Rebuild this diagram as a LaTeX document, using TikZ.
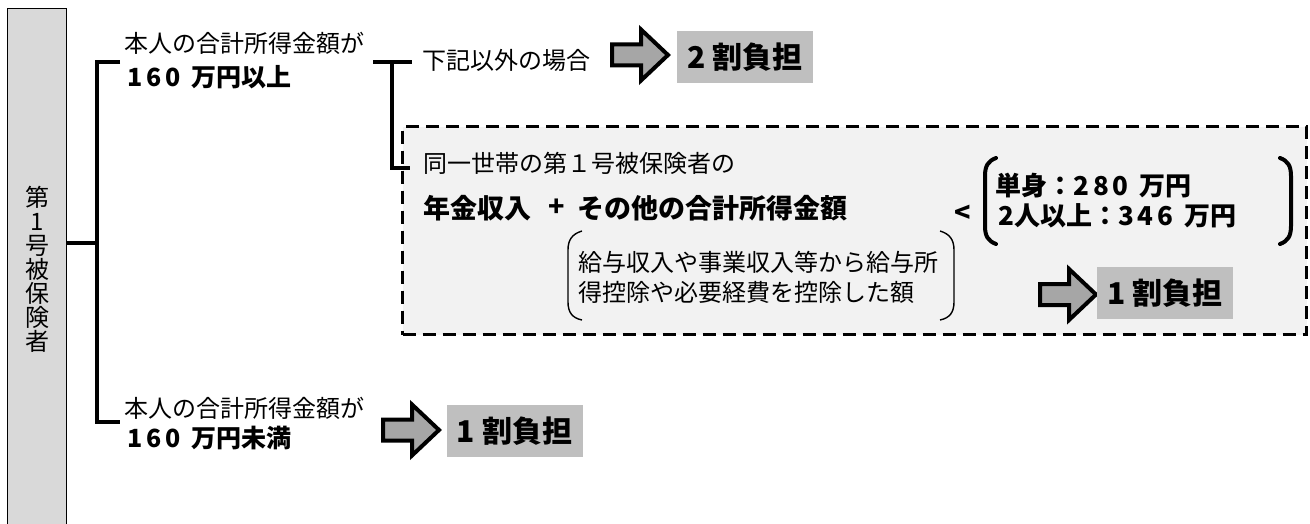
\documentclass[tikz,border=0pt]{standalone}
\usepackage{fontspec}
\setmainfont{Noto Sans CJK JP}
\definecolor{boxgray}{HTML}{D9D9D9}
\definecolor{dashfill}{HTML}{F2F2F2}
\definecolor{resgray}{HTML}{BFBFBF}
\definecolor{arrgray}{HTML}{A6A6A6}
\newcommand{\dk}{\kern4pt}
\newcommand{\wsp}{\ \kern5pt}
\newcommand{\blkarrow}[2]{%
  \draw[arrowst] (#1,{#2-10.5}) -- ({#1+29},{#2-10.5}) -- ({#1+29},{#2-25.5}) -- ({#1+56},#2)
    -- ({#1+29},{#2+25.5}) -- ({#1+29},{#2+10.5}) -- (#1,{#2+10.5}) -- cycle;}
\begin{document}
\begin{tikzpicture}[x=1pt,y=-1pt,
  txt/.style={font=\fontsize{24}{30}\selectfont, inner sep=0, anchor=west},
  btxt/.style={font=\fontsize{25}{30}\selectfont\bfseries, inner sep=0, anchor=west},
  bigtxt/.style={font=\fontsize{27}{30}\selectfont\bfseries, inner sep=0, anchor=west},
  vtxt/.style={font=\fontsize{24}{24}\selectfont, inner sep=0, align=center},
  brk/.style={line width=4.6, line cap=butt, line join=miter},
  arrowst/.style={draw=black, fill=arrgray, line width=4, line join=miter},
  resbox/.style={fill=resgray, minimum width=136, minimum height=52, inner sep=0,
    font=\fontsize{30}{30}\selectfont\bfseries},
  dashbox/.style={draw=black, fill=dashfill, line width=3.2, dash pattern=on 13pt off 7pt,
    minimum width=904, minimum height=208, anchor=north west, inner sep=0},
  paren/.style={line width=1.4},
  bparen/.style={line width=4, line cap=round}]
\useasboundingbox (0,0) rectangle (1310,524);
\fill[white] (0,0) rectangle (1310,524);
% left box
\node[draw, fill=boxgray, line width=1.3, minimum width=59, minimum height=540,
  anchor=north west, inner sep=0] (lb) at (7,8) {};
\node[vtxt] (lbt) at (37,269) {第\\1\\号\\被\\保\\険\\者};
% main bracket
\coordinate (c0) at (66,243);
\coordinate (cj) at (97,243);
\coordinate (bt) at (97,62);
\coordinate (btt) at (120,62);
\coordinate (bb) at (97,422);
\coordinate (bbt) at (120,422);
\draw[brk] (c0) -- (cj);
\draw[brk] (btt) -- (bt) -- (bb) -- (bbt);
% upper texts
\node[txt] (t1a) at (124,43) {本人の合計所得金額が};
\node[btxt] (t1b) at (127,77) {1\dk6\dk0\wsp 万円以上};
% dashed box
\node[dashbox] (db) at (401,125) {};
% T bracket
\coordinate (ta) at (373,62);
\coordinate (tb) at (412,62);
\coordinate (tc) at (392,62);
\coordinate (td) at (392,168);
\coordinate (te) at (410,168);
\draw[brk] (ta) -- (tb);
\draw[brk] (tc) -- (td) -- (te);
\node[txt] (t2) at (422,60) {下記以外の場合};
\blkarrow{612}{55}
\node[resbox] (r1) at (745,57.5) {2 割負担};
% inside dashed box
\node[txt] (t3) at (423,163) {同一世帯の第１号被保険者の};
\node[bigtxt] (t4a) at (423,208) {年金収入};
\node[bigtxt, anchor=center] (t4p) at (557,208) {+};
\node[bigtxt] (t4b) at (577,208) {その他の合計所得金額};
\node[txt, align=left, font=\fontsize{24}{30}\selectfont] (t5) at (578,277)
  {給与収入や事業収入等から給与所\\得控除や必要経費を控除した額};
\draw[paren] (582,231) .. controls (572,234) and (568,240) .. (568,250) -- (568,302)
  .. controls (568,312) and (572,318) .. (582,320);
\draw[paren] (940,231) .. controls (950,234) and (954,240) .. (954,250) -- (954,302)
  .. controls (954,312) and (950,318) .. (940,320);
\node[bigtxt, anchor=center] (lt) at (963,214) {<};
\draw[bparen] (996,158) .. controls (988,161) and (985,166) .. (985,176) -- (985,226)
  .. controls (985,236) and (988,241) .. (996,244);
\draw[bparen] (1280,158) .. controls (1288,161) and (1291,166) .. (1291,176) -- (1291,226)
  .. controls (1291,236) and (1288,241) .. (1280,244);
\node[bigtxt, font=\fontsize{26}{30}\selectfont\bfseries] (s1) at (995,186) {単身：2\dk8\dk0\wsp 万円};
\node[bigtxt, font=\fontsize{26}{30}\selectfont\bfseries] (s2) at (998,216) {2人以上：3\dk4\dk6\wsp 万円};
\blkarrow{1040}{294.5}
\node[resbox] (r2) at (1165,293) {1 割負担};
% lower branch
\node[txt] (t6a) at (124,408) {本人の合計所得金額が};
\node[btxt] (t6b) at (127,438) {1\dk6\dk0\wsp 万円未満};
\blkarrow{383}{430}
\node[resbox] (r3) at (514.5,431) {1 割負担};
\end{tikzpicture}
\end{document}
